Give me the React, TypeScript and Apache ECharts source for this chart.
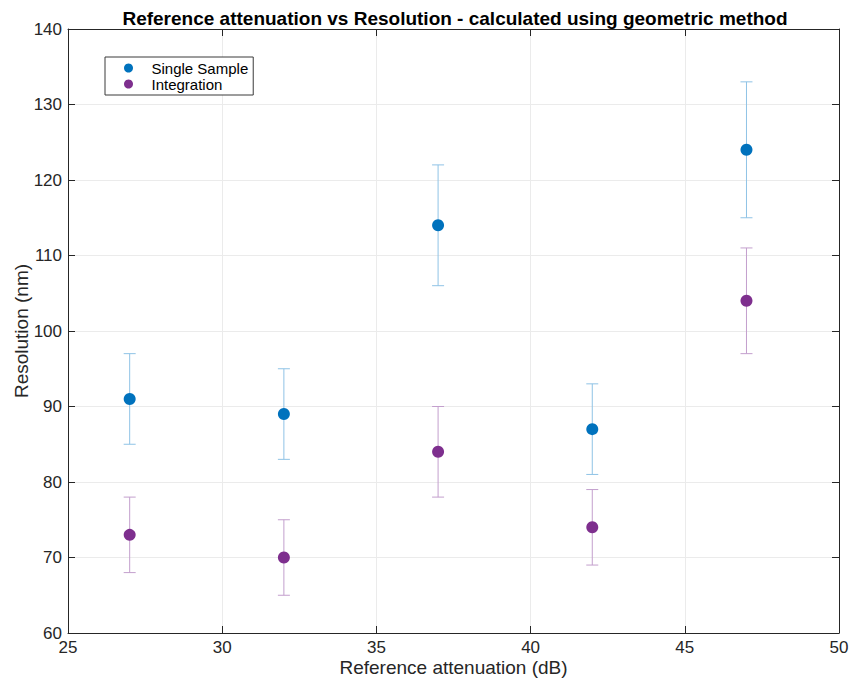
import React, { useEffect, useRef } from "react";
import * as echarts from "echarts";

const attenuation = [27, 32, 37, 42, 47];
const singleValues = [91, 89, 114, 87, 124];
const singleLow = [85, 83, 106, 81, 115];
const singleHigh = [97, 95, 122, 93, 133];
const integValues = [73, 70, 84, 74, 104];
const integLow = [68, 65, 78, 69, 97];
const integHigh = [78, 75, 90, 79, 111];

const FONT = "'Liberation Sans', Arial, Helvetica, sans-serif";
const AXIS = "#262626";

function errorSeries(name: string, lows: number[], highs: number[], color: string) {
  return {
    type: "custom",
    name: name + " err",
    z: 1,
    silent: true,
    encode: { x: 0, y: [1, 2] },
    data: attenuation.map((x, i) => [x, lows[i], highs[i]]),
    renderItem: (params: any, api: any) => {
      const x = api.value(0);
      const lo = api.value(1);
      const hi = api.value(2);
      const pHi = api.coord([x, hi]);
      const pLo = api.coord([x, lo]);
      const w = 6;
      const style = { stroke: color, lineWidth: 1 };
      return {
        type: "group",
        children: [
          { type: "line", shape: { x1: pHi[0], y1: pHi[1], x2: pLo[0], y2: pLo[1] }, style },
          { type: "line", shape: { x1: pHi[0] - w, y1: pHi[1], x2: pHi[0] + w, y2: pHi[1] }, style },
          { type: "line", shape: { x1: pLo[0] - w, y1: pLo[1], x2: pLo[0] + w, y2: pLo[1] }, style },
        ],
      };
    },
  };
}

export default function App() {
  const ref = useRef<HTMLDivElement>(null);
  useEffect(() => {
    if (!ref.current) return;
    const chart = echarts.init(ref.current, null, { renderer: "svg" });
    const axisCommon = {
      type: "value",
      axisLine: { show: true, onZero: false, lineStyle: { color: AXIS, width: 1 } },
      axisTick: { show: true, inside: true, length: 7, lineStyle: { color: AXIS } },
    };
    chart.setOption({
      animation: false,
      backgroundColor: "#ffffff",
      textStyle: { fontFamily: FONT },
      title: {
        text: "Reference attenuation vs Resolution - calculated using geometric method",
        left: 450,
        textAlign: "center",
        top: 4,
        textStyle: { fontFamily: FONT, fontSize: 19, fontWeight: "bold", color: "#000" },
      },
      legend: {
        orient: "vertical",
        left: 105,
        top: 57,
        padding: [3, 5, 3, 19],
        itemWidth: 36,
        itemHeight: 9,
        itemGap: 0,
        itemStyle: { borderWidth: 0 },
        borderColor: "#3a3a3a",
        borderWidth: 1,
        backgroundColor: "#fff",
        textStyle: { fontFamily: FONT, fontSize: 15, lineHeight: 16, color: "#000" },
        data: [
          { name: "Single Sample", icon: "circle" },
          { name: "Integration", icon: "circle" },
        ],
      },
      grid: { left: 68, right: 10, top: 29, bottom: 45, containLabel: false, outerBoundsMode: "none" },
      xAxis: [
        {
          ...axisCommon,
          position: "bottom",
          min: 25,
          max: 50,
          interval: 5,
          name: "Reference attenuation (dB)",
          nameLocation: "middle",
          nameGap: 25,
          nameMoveOverlap: false,
          nameTextStyle: { fontFamily: FONT, fontSize: 19, color: AXIS },
          axisLabel: { fontFamily: FONT, fontSize: 17, color: AXIS, margin: 6 },
          splitLine: { show: true, lineStyle: { color: "#ebebeb", width: 1 } },
        },
        {
          ...axisCommon,
          position: "top",
          min: 25,
          max: 50,
          interval: 5,
          axisLabel: { show: false },
          splitLine: { show: false },
        },
      ],
      yAxis: [
        {
          ...axisCommon,
          position: "left",
          min: 60,
          max: 140,
          interval: 10,
          name: "Resolution (nm)",
          nameLocation: "middle",
          nameGap: 37,
          nameMoveOverlap: false,
          nameTextStyle: { fontFamily: FONT, fontSize: 19, color: AXIS },
          axisLabel: { fontFamily: FONT, fontSize: 17, color: AXIS, margin: 6 },
          splitLine: { show: true, lineStyle: { color: "#ebebeb", width: 1 } },
        },
        {
          ...axisCommon,
          position: "right",
          min: 60,
          max: 140,
          interval: 10,
          axisLabel: { show: false },
          splitLine: { show: false },
        },
      ],
      series: [
        errorSeries("Single Sample", singleLow, singleHigh, "#8fc3e6"),
        errorSeries("Integration", integLow, integHigh, "#c39fcd"),
        {
          type: "scatter",
          name: "Single Sample",
          z: 3,
          symbol: "circle",
          symbolSize: 12,
          itemStyle: { color: "#0072BD", opacity: 1 },
          data: attenuation.map((x, i) => [x, singleValues[i]]),
        },
        {
          type: "scatter",
          name: "Integration",
          z: 3,
          symbol: "circle",
          symbolSize: 12,
          itemStyle: { color: "#7E2F8E", opacity: 1 },
          data: attenuation.map((x, i) => [x, integValues[i]]),
        },
      ],
    });
    return () => chart.dispose();
  }, []);
  return <div ref={ref} style={{ width: 849, height: 678, position: "absolute", left: 0, top: 0 }} />;
}
